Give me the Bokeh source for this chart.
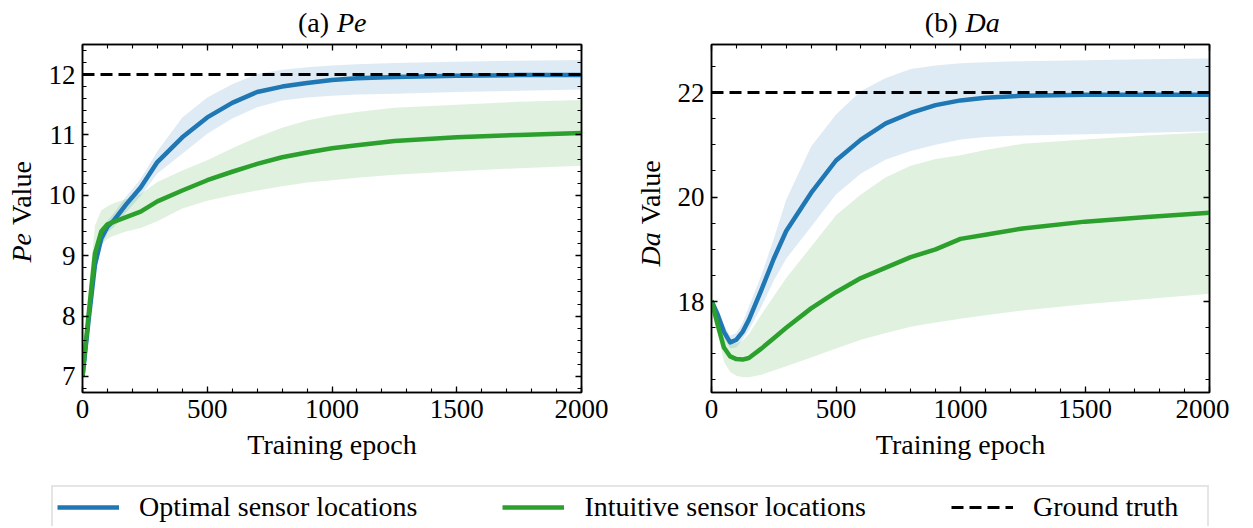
import math
from bokeh.plotting import figure
from bokeh.models import (Range1d, LinearAxis, SingleIntervalTicker, Legend,
                          LegendItem, CustomJSTickFormatter)
from bokeh.layouts import column, row
from bokeh.embed import file_html
from bokeh.resources import INLINE
from bokeh.core.properties import value

# ---------------- data ----------------
x_pe = [0, 25, 50, 75, 100, 125, 175, 233, 300, 400, 500, 600, 700, 800, 900, 1000,
        1100, 1250, 1500, 1750, 2000]
opt_pe_mean = [7.00, 7.95, 8.85, 9.28, 9.48, 9.58, 9.85, 10.13, 10.55, 10.96, 11.29, 11.53,
               11.71, 11.80, 11.86, 11.91, 11.94, 11.96, 11.98, 11.99, 11.99]
opt_pe_upper = [7.00, 8.05, 9.00, 9.42, 9.58, 9.70, 9.98, 10.27, 10.73, 11.29, 11.62, 11.84,
                12.01, 12.08, 12.12, 12.15, 12.17, 12.19, 12.21, 12.23, 12.24]
opt_pe_lower = [7.00, 7.85, 8.70, 9.15, 9.38, 9.47, 9.72, 9.99, 10.36, 10.69, 11.02, 11.27,
                11.46, 11.57, 11.62, 11.65, 11.67, 11.68, 11.71, 11.73, 11.75]
int_pe_mean = [7.00, 8.05, 9.04, 9.40, 9.52, 9.56, 9.64, 9.73, 9.90, 10.08, 10.25, 10.39,
               10.52, 10.63, 10.71, 10.78, 10.83, 10.90, 10.96, 11.00, 11.03]
int_pe_upper = [7.00, 8.40, 9.50, 9.75, 9.82, 9.87, 9.94, 10.02, 10.22, 10.41, 10.58, 10.78,
                10.96, 11.12, 11.24, 11.32, 11.38, 11.45, 11.50, 11.55, 11.58]
int_pe_lower = [7.00, 7.75, 8.65, 9.18, 9.28, 9.33, 9.40, 9.46, 9.57, 9.78, 9.91, 10.00,
                10.08, 10.15, 10.21, 10.25, 10.29, 10.34, 10.40, 10.45, 10.49]
pe_truth = 12.0

x_da = [0, 25, 50, 75, 100, 125, 150, 200, 250, 300, 400, 500, 600, 700, 800, 900, 1000,
        1100, 1250, 1500, 1750, 2000]
opt_da_mean = [18.02, 17.75, 17.42, 17.22, 17.27, 17.42, 17.65, 18.22, 18.82, 19.35, 20.08,
               20.70, 21.10, 21.41, 21.61, 21.76, 21.85, 21.90, 21.94, 21.96, 21.96, 21.96]
opt_da_upper = [18.02, 17.85, 17.55, 17.35, 17.40, 17.60, 17.90, 18.50, 19.20, 19.95, 20.97,
                21.58, 22.03, 22.28, 22.45, 22.52, 22.56, 22.58, 22.60, 22.62, 22.64, 22.65]
opt_da_lower = [18.02, 17.65, 17.30, 17.10, 17.12, 17.28, 17.45, 17.90, 18.40, 18.82, 19.43,
                20.05, 20.45, 20.72, 20.88, 21.00, 21.10, 21.15, 21.18, 21.20, 21.23, 21.26]
int_da_mean = [18.02, 17.55, 17.12, 16.95, 16.90, 16.89, 16.92, 17.10, 17.30, 17.50, 17.87,
               18.18, 18.45, 18.65, 18.85, 19.00, 19.20, 19.28, 19.40, 19.53, 19.62, 19.70]
int_da_upper = [18.02, 17.70, 17.35, 17.22, 17.20, 17.25, 17.38, 17.75, 18.10, 18.45, 19.05,
                19.65, 20.05, 20.38, 20.60, 20.73, 20.80, 20.90, 21.02, 21.10, 21.18, 21.24]
int_da_lower = [18.02, 17.40, 16.85, 16.65, 16.58, 16.55, 16.55, 16.60, 16.68, 16.76, 16.93,
                17.10, 17.27, 17.40, 17.52, 17.60, 17.67, 17.74, 17.83, 17.95, 18.05, 18.15]
da_truth = 22.0

legend_labels = ["Optimal sensor locations", "Intuitive sensor locations", "Ground truth"]

# ---------------- style ----------------
BLUE = "#1f77b4"
GREEN = "#2ca02c"
FONT = "Liberation Serif"
TICK_SIZE = "27px"
TEXT_SIZE = "28px"
TOP_B = 4
PANEL_H = TOP_B + 348 + 80
TITLE_H = 40


def style_axis(ax, ticker, show_labels):
    ax.ticker = ticker
    ax.axis_line_color = "black"
    ax.axis_line_width = 1.5
    ax.major_tick_in = 6
    ax.major_tick_out = 0
    ax.minor_tick_in = 4
    ax.minor_tick_out = 0
    ax.major_tick_line_color = "black"
    ax.minor_tick_line_color = "black"
    ax.major_tick_line_width = 1.3
    ax.minor_tick_line_width = 1.1
    ax.major_label_text_font = FONT
    ax.major_label_text_color = "black"
    if show_labels:
        ax.major_label_text_font_size = TICK_SIZE
    else:
        ax.major_label_text_font_size = "0px"
        ax.formatter = CustomJSTickFormatter(code="return ''")
        ax.major_label_standoff = 0


def blank_fig(w, h):
    f = figure(width=w, height=h, x_range=Range1d(0, w), y_range=Range1d(0, h),
               x_axis_type=None, y_axis_type=None, toolbar_location=None,
               output_backend="svg", min_border=0, title=None)
    f.grid.visible = False
    f.outline_line_color = None
    return f


def make_panel(x, opt_mean, opt_up, opt_lo, int_mean, int_up, int_lo, truth,
               y_start, y_end, y_interval, y_minor, border_left, border_right, fw):
    p = figure(frame_width=fw, frame_height=348, min_border_left=border_left,
               min_border_right=border_right, min_border_top=TOP_B, min_border_bottom=80,
               x_range=Range1d(0, 2000), y_range=Range1d(y_start, y_end),
               toolbar_location=None, output_backend="svg", title=None)
    p.grid.visible = False
    p.outline_line_color = "black"
    p.outline_line_width = 1.5

    xt = SingleIntervalTicker(interval=500, num_minor_ticks=5)
    yt = SingleIntervalTicker(interval=y_interval, num_minor_ticks=y_minor)
    style_axis(p.xaxis[0], xt, True)
    style_axis(p.yaxis[0], yt, True)
    p.xaxis[0].major_label_standoff = 7
    p.yaxis[0].major_label_standoff = 7
    p.xaxis[0].axis_label = "Training epoch"
    p.xaxis[0].axis_label_text_font = FONT
    p.xaxis[0].axis_label_text_font_size = TEXT_SIZE
    p.xaxis[0].axis_label_text_font_style = "normal"
    p.xaxis[0].axis_label_text_color = "black"
    p.xaxis[0].axis_label_standoff = 8

    top = LinearAxis()
    style_axis(top, xt, False)
    p.add_layout(top, "above")
    right = LinearAxis()
    style_axis(right, yt, False)
    p.add_layout(right, "right")

    p.varea(x=x, y1=opt_lo, y2=opt_up, fill_color=BLUE, fill_alpha=0.15)
    p.varea(x=x, y1=int_lo, y2=int_up, fill_color=GREEN, fill_alpha=0.15)
    p.line(x, opt_mean, line_color=BLUE, line_width=4.5, line_join="round")
    p.line(x, int_mean, line_color=GREEN, line_width=4.5, line_join="round")
    p.line([x[0], x[-1]], [truth, truth], line_color="black", line_width=3,
           line_dash="12 6")
    return p


def title_fig(w, cx, tag, var):
    f = blank_fig(w, TITLE_H)
    f.text(x=[cx - 3], y=[TITLE_H - 22], text=[tag], text_align="right",
           text_baseline="middle", text_font=value(FONT),
           text_font_size=value(TEXT_SIZE), text_color="black")
    f.text(x=[cx + 5], y=[TITLE_H - 22], text=[var], text_align="left",
           text_baseline="middle", text_font=value(FONT),
           text_font_style=value("italic"), text_font_size=value(TEXT_SIZE),
           text_color="black")
    return f


def ylabel_fig(w, cx, split, var):
    f = blank_fig(w, PANEL_H)
    f.text(x=[cx], y=[split - 7], text=[var], angle=math.pi / 2, text_align="right",
           text_baseline="middle", text_font=value(FONT),
           text_font_style=value("italic"), text_font_size=value(TEXT_SIZE),
           text_color="black")
    f.text(x=[cx], y=[split + 3], text=["Value"], angle=math.pi / 2, text_align="left",
           text_baseline="middle", text_font=value(FONT),
           text_font_size=value(TEXT_SIZE), text_color="black")
    return f


p1 = make_panel(x_pe, opt_pe_mean, opt_pe_upper, opt_pe_lower, int_pe_mean, int_pe_upper,
                int_pe_lower, pe_truth, 6.735, 12.497, 1, 5, 46, 40, 499)
p2 = make_panel(x_da, opt_da_mean, opt_da_upper, opt_da_lower, int_da_mean, int_da_upper,
                int_da_lower, da_truth, 16.26, 22.92, 2, 4, 46, 20, 498)

# label split points, measured from the bottom of the label strip (page y 472)
yl1 = ylabel_fig(36, 21, 237 - 32, "Pe")
yl2 = ylabel_fig(44, 29, 236 - 30, "Da")
t1 = title_fig(36 + 585, 331.5, "(a)", "Pe")
t2 = title_fig(44 + 564, 339, "(b)", "Da")

colA = column(t1, row(yl1, p1))
colB = column(t2, row(yl2, p2))

# ---------------- legend strip ----------------
pl = blank_fig(1229, 54)
nan = float("nan")
r1 = pl.line(x=[nan], y=[nan], line_color=BLUE, line_width=4.5)
r2 = pl.line(x=[nan], y=[nan], line_color=GREEN, line_width=4.5)
r3 = pl.line(x=[nan], y=[nan], line_color="black", line_width=3, line_dash="12 6")
legend = Legend(items=[LegendItem(label=legend_labels[0], renderers=[r1]),
                       LegendItem(label=legend_labels[1], renderers=[r2]),
                       LegendItem(label=legend_labels[2], renderers=[r3])],
                orientation="horizontal", location=(51, -3),
                glyph_width=62, glyph_height=28, label_height=28, label_standoff=20,
                spacing=85, padding=4, margin=0, label_width=170,
                border_line_color="#cccccc", border_line_width=2,
                background_fill_color="white", background_fill_alpha=1,
                label_text_font=FONT, label_text_font_size=TEXT_SIZE,
                label_text_baseline="middle", label_text_color="black")
pl.add_layout(legend)

layout = column(row(colA, colB), pl)
open("out.html", "w").write(file_html(layout, INLINE))
